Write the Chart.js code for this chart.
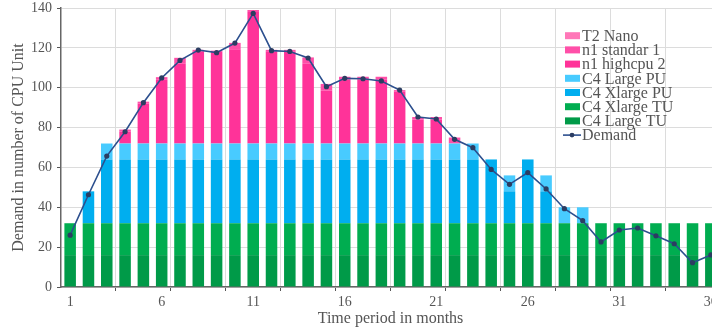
<!DOCTYPE html>
<html>
<head>
<meta charset="utf-8">
<script src="https://cdn.jsdelivr.net/npm/chart.js@4"></script>
<style>
  html, body { margin: 0; padding: 0; background: #fff; overflow: hidden; }
  #wrap { position: relative; width: 724px; height: 331px; }
</style>
</head>
<body>
<div id="wrap"><canvas id="chart"></canvas></div>
<script>
// Data
const months = ['1','2','3','4','5','6','7','8','9','10','11','12','13','14','15','16','17','18',
                '19','20','21','22','23','24','25','26','27','28','29','30','31','32','33','34','35','36'];

const demand = [26, 46.3, 65.7, 77.9, 92.5, 104.9, 113.7, 118.9, 117.6, 122.4, 137.3, 118.6,
                118.2, 114.9, 100.5, 104.7, 104.5, 103.4, 98.8, 85.3, 84.3, 74.1, 69.9, 59.0,
                51.5, 57.4, 49.2, 39.3, 33.3, 22.6, 28.6, 29.6, 25.7, 21.7, 12.2, 16.1];

const c4LargeTU  = [16,16,16,16,16,16,16,16,16,16,16,16,16,16,16,16,16,16,
                    16,16,16,16,16,16,16,16,16,16,16,16,16,16,16,16,16,16];
const c4XlargeTU = [16,16,16,16,16,16,16,16,16,16,16,16,16,16,16,16,16,16,
                    16,16,16,16,16,16,16,16,16,16,16,16,16,16,16,16,16,16];
const c4XlargePU = [0,16,32,32,32,32,32,32,32,32,32,32,32,32,32,32,32,32,
                    32,32,32,32,32,32,16,32,16,0,0,0,0,0,0,0,0,0];
const c4LargePU  = [0,0,8,8,8,8,8,8,8,8,8,8,8,8,8,8,8,8,
                    8,8,8,8,8,0,8,0,8,8,8,0,0,0,0,0,0,0];
const n1Highcpu2 = [0,0,0,6,20,32,40,46,46,47,66,46,46,40,26.5,32,32,32,
                    26,12,12,0,0,0,0,0,0,0,0,0,0,0,0,0,0,0];
const n1Standar1 = [0,0,0,1,1,1.3,3,1,0.6,3.5,1,1,1,3.2,3.4,1.5,1.5,1.5,
                    0.8,1.3,1.3,3,0,0,0,0,0,0,0,0,0,0,0,0,0,0];
const t2Nano     = [0,0,0,0,0,0,0,0,0,0,0,0,0,0,0,0,0,0,
                    0,0,0,0,0,0,0,0,0,0,0,0,0,0,0,0,0,0];

const SERIF = '"Liberation Serif", "DejaVu Serif", serif';
const TEXT = '#555';

function bar(label, data, color) {
    return { type: 'bar', label, data, backgroundColor: color, borderWidth: 0,
             stack: 'vms', order: 1, barPercentage: 0.63, categoryPercentage: 1.0 };
}

const datasets = [
    {
        type: 'line', label: 'Demand', data: demand, stack: 'demand', order: 0,
        borderColor: '#2c4f8e', borderWidth: 1.6, tension: 0,
        pointRadius: 2.6, pointBackgroundColor: '#2b3d62', pointBorderColor: '#2b3d62',
        pointBorderWidth: 0
    },
    bar('C4 Large TU', c4LargeTU, '#009a48'),
    bar('C4 Xlarge TU', c4XlargeTU, '#00ad50'),
    bar('C4 Xlarge PU', c4XlargePU, '#00aeef'),
    bar('C4 Large PU', c4LargePU, '#48cbff'),
    bar('n1 highcpu 2', n1Highcpu2, '#ff3399'),
    bar('n1 standar 1', n1Standar1, '#ff4fa8'),
    bar('T2 Nano', t2Nano, '#ff77b8')
];

// legend drawn inside the plot, top entry first
const legendInside = {
    id: 'legendInside',
    afterDatasetsDraw(chart) {
        const ctx = chart.ctx;
        const ds = chart.data.datasets;
        const order = [7, 6, 5, 4, 3, 2, 1, 0];
        ctx.save();
        ctx.font = '16px ' + SERIF;
        ctx.textBaseline = 'middle';
        ctx.textAlign = 'left';
        order.forEach((idx, i) => {
            const d = ds[idx];
            const y = 35.7 + i * 14.2;
            if (d.type === 'line') {
                ctx.strokeStyle = d.borderColor;
                ctx.lineWidth = 1.6;
                ctx.beginPath();
                ctx.moveTo(563, y);
                ctx.lineTo(581, y);
                ctx.stroke();
                ctx.fillStyle = d.pointBackgroundColor;
                ctx.beginPath();
                ctx.arc(572, y, 2.4, 0, Math.PI * 2);
                ctx.fill();
            } else {
                ctx.fillStyle = d.backgroundColor;
                ctx.fillRect(565, y - 3.5, 15, 7);
            }
            ctx.fillStyle = TEXT;
            ctx.fillText(d.label, 582, y + 1);
        });
        ctx.restore();
    }
};

new Chart(document.getElementById('chart'), {
    data: { labels: months, datasets },
    options: {
        responsive: true,
        maintainAspectRatio: false,
        animation: false,
        layout: { padding: { top: 8, right: 4, left: 0, bottom: 0 } },
        plugins: { legend: { display: false }, tooltip: { enabled: false } },
        scales: {
            x: {
                type: 'category',
                stacked: true,
                offset: true,
                grid: {
                    offset: true,
                    color: (c) => (c.index > 0 && c.index % 3 === 0) ? '#dcdcdc' : 'rgba(0,0,0,0)',
                    tickColor: (c) => (c.index > 0 && c.index % 3 === 0) ? '#555' : 'rgba(0,0,0,0)',
                    tickLength: 4,
                    lineWidth: 1
                },
                border: { display: true, color: '#666', width: 1.5 },
                ticks: {
                    autoSkip: false, maxRotation: 0, padding: 3,
                    color: TEXT, font: { family: SERIF, size: 14 },
                    callback: (v, i) => (i % 5 === 0 ? months[i] : '')
                },
                title: {
                    display: true, text: 'Time period in months', color: TEXT,
                    font: { family: SERIF, size: 16 }, padding: { top: 0, bottom: 3 }
                },
                afterFit: (s) => { s.height = 44; s.paddingLeft = 0; s.paddingRight = 0; }
            },
            y: {
                stacked: true,
                min: 0, max: 140,
                grid: { color: '#dcdcdc', tickColor: '#555', tickLength: 4, lineWidth: 1 },
                border: { display: true, color: '#666', width: 1.5 },
                ticks: { stepSize: 20, padding: 5, color: TEXT, font: { family: SERIF, size: 14 } },
                title: {
                    display: true, text: 'Demand in number of CPU Unit', color: TEXT,
                    font: { family: SERIF, size: 16 }, padding: { top: 9, bottom: 0 }
                },
                afterFit: (s) => { s.width = 61; s.paddingTop = 0; s.paddingBottom = 0; }
            }
        }
    },
    plugins: [legendInside]
});
</script>
</body>
</html>
